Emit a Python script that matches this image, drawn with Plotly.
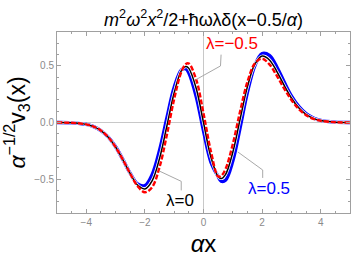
import plotly.graph_objects as go

# alpha*x grid
ax_x = [-5, -4.5, -4, -3.75, -3.5, -3.25, -3, -2.75, -2.5, -2.25, -2, -1.75, -1.5, -1.25,
        -1, -0.75, -0.6, -0.5, -0.25, 0, 0.25, 0.5, 0.6, 0.75, 1, 1.25, 1.5, 1.75, 2,
        2.25, 2.5, 2.75, 3, 3.25, 3.5, 3.75, 4, 4.5, 5]

# lambda = 0 (black)
v_l0 = [-0.0004, -0.0029, -0.0169, -0.0361, -0.0714, -0.1299, -0.2168, -0.3296, -0.4525,
        -0.5531, -0.5869, -0.5129, -0.3168, -0.0310, 0.2630, 0.4603, 0.4956, 0.4784,
        0.3021, 0.0, -0.3021, -0.4784, -0.4956, -0.4603, -0.2630, 0.0310, 0.3168,
        0.5129, 0.5869, 0.5531, 0.4525, 0.3296, 0.2168, 0.1299, 0.0714, 0.0361, 0.0169,
        0.0029, 0.0004]

# lambda = 0.5 (blue)
v_lp = [-0.0004, -0.0030, -0.0172, -0.0365, -0.0717, -0.1296, -0.2148, -0.3287, -0.4502,
        -0.5425, -0.5571, -0.4586, -0.2451, 0.0407, 0.3115, 0.4664, 0.4733, 0.4377,
        0.2296, -0.0745, -0.3474, -0.4775, -0.5179, -0.5104, -0.3408, -0.0445, 0.2682,
        0.5019, 0.6096, 0.5937, 0.4927, 0.3597, 0.2350, 0.1418, 0.0784, 0.0399, 0.0188,
        0.0033, 0.0004]

# lambda = -0.5 (red dashed)
v_lm = [-0.0004, -0.0028, -0.0165, -0.0355, -0.0708, -0.1297, -0.2181, -0.3291, -0.4531,
        -0.5623, -0.6170, -0.5701, -0.3940, -0.1093, 0.2089, 0.4517, 0.5179, 0.5209,
        0.3801, 0.0816, -0.2512, -0.4775, -0.4733, -0.4128, -0.1909, 0.0999, 0.3600,
        0.5210, 0.5638, 0.5139, 0.4140, 0.3008, 0.1993, 0.1185, 0.0647, 0.0325, 0.0151,
        0.0026, 0.0004]

x_ticks = [-4, -2, 0, 2, 4]
y_ticks = [-0.5, 0.0, 0.5]
y_tick_labels = ["\u22120.5", "0.0", "0.5"]
x_tick_labels = ["\u22124", "\u22122", "0", "2", "4"]

fig = go.Figure()
fig.add_trace(go.Scatter(x=ax_x, y=v_lp, mode="lines", line=dict(color="#0000ff", width=3.4, shape="spline"),
                         showlegend=False, hoverinfo="skip"))
fig.add_trace(go.Scatter(x=ax_x, y=v_l0, mode="lines", line=dict(color="white", width=3.0, shape="spline"),
                         showlegend=False, hoverinfo="skip"))
fig.add_trace(go.Scatter(x=ax_x, y=v_l0, mode="lines", line=dict(color="black", width=1.5, shape="spline"),
                         showlegend=False, hoverinfo="skip"))
fig.add_trace(go.Scatter(x=ax_x, y=v_lm, mode="lines", line=dict(color="#ff0000", width=2.4, dash="5px,2px", shape="spline"),
                         showlegend=False, hoverinfo="skip"))

tickfont = dict(family="Liberation Sans, Arial", size=10, color="#8a8a8a")
axcommon = dict(showgrid=False, zeroline=True, zerolinecolor="#c8c8c8", zerolinewidth=1,
                showline=True, linecolor="#a0a0a0", linewidth=1, mirror="allticks",
                ticks="inside", ticklen=4, tickcolor="#a0a0a0", tickfont=tickfont)

fig.update_xaxes(range=[-5, 5], tickvals=x_ticks, ticktext=x_tick_labels,
                 minor=dict(dtick=0.5, ticklen=2, tickcolor="#a0a0a0", ticks="inside"),
                 title=dict(text="<i>\u03b1</i>x", font=dict(family="Liberation Sans, Arial", size=24, color="black"), standoff=8),
                 **axcommon)
fig.update_yaxes(range=[-0.8, 0.8], tickvals=y_ticks, ticktext=y_tick_labels,
                 minor=dict(dtick=0.1, ticklen=2, tickcolor="#a0a0a0", ticks="inside"),
                 title=dict(text="<i>\u03b1</i><sup>\u22121/2</sup>v<sub>3</sub>(x)",
                            font=dict(family="Liberation Sans, Arial", size=23, color="black"), standoff=2),
                 **axcommon)

# callout lines
leader = dict(color="#a8a8a8", width=1)
fig.add_shape(type="path", path="M 0.6,0.6 L 0.58,0.5 L -0.25,0.38", line=leader, xref="x", yref="y")
fig.add_shape(type="path", path="M 2.02,-0.49 L 2.02,-0.42 L 1.17,-0.26", line=leader, xref="x", yref="y")
fig.add_shape(type="path", path="M -0.76,-0.6 L -0.76,-0.52 L -1.5,-0.43", line=leader, xref="x", yref="y")

lab_font = dict(family="Liberation Sans, Arial", size=17)
fig.add_annotation(x=0.03, y=0.6, text="\u03bb=\u22120.5", showarrow=False, xanchor="left", yanchor="bottom",
                   font=dict(color="#ff0000", **lab_font))
fig.add_annotation(x=1.45, y=-0.48, text="\u03bb=0.5", showarrow=False, xanchor="left", yanchor="top",
                   font=dict(color="#0000ff", **lab_font))
fig.add_annotation(x=-1.35, y=-0.59, text="\u03bb=0", showarrow=False, xanchor="left", yanchor="top",
                   font=dict(color="black", **lab_font))

fig.update_layout(
    width=354, height=260,
    margin=dict(l=57, r=4, t=32, b=47),
    paper_bgcolor="white", plot_bgcolor="white",
    title=dict(text="<i>m</i><sup>2</sup><i>\u03c9</i><sup>2</sup><i>x</i><sup>2</sup>/2+\u0127\u03c9\u03bb\u03b4(x\u22120.5/<i>\u03b1</i>)",
               x=0.575, xanchor="center", y=0.925, yanchor="middle",
               font=dict(family="Liberation Sans, Arial", size=18, color="black")),
)

fig.write_html("out.html", config={"displayModeBar": False},
               post_script="document.body.style.margin='0';document.body.style.padding='0';")
